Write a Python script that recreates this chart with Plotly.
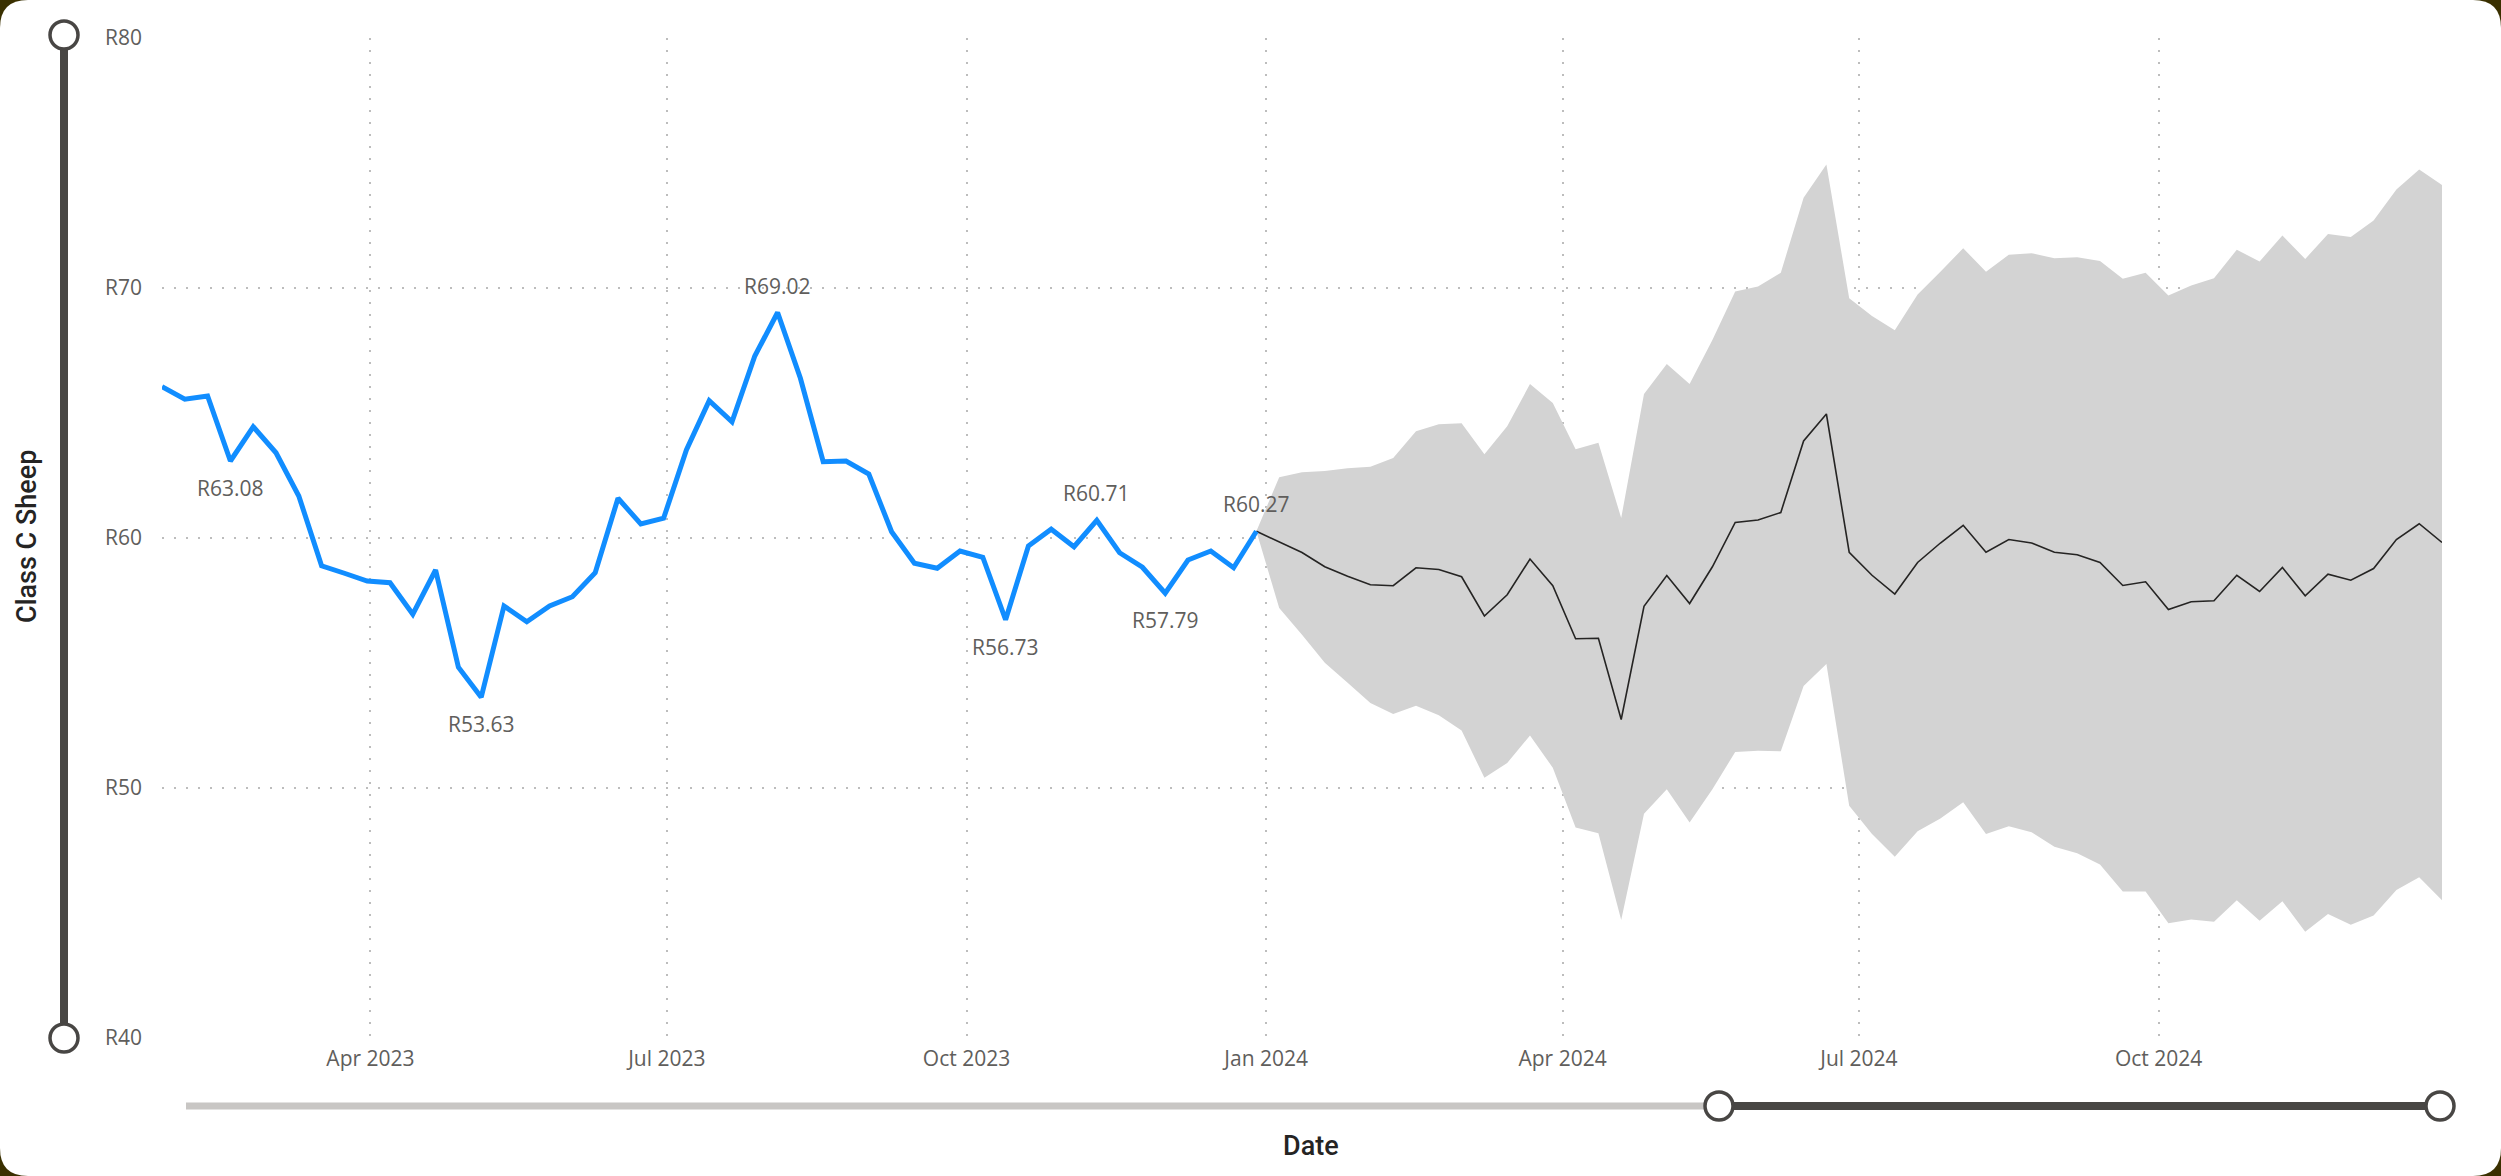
import plotly.graph_objects as go

# ---------------- data ----------------
actual_dates = [
    "2023-01-27", "2023-02-03", "2023-02-10", "2023-02-17", "2023-02-24",
    "2023-03-03", "2023-03-10", "2023-03-17", "2023-03-24", "2023-03-31",
    "2023-04-07", "2023-04-14", "2023-04-21", "2023-04-28",
    "2023-05-05", "2023-05-12", "2023-05-19", "2023-05-26",
    "2023-06-02", "2023-06-09", "2023-06-16", "2023-06-23", "2023-06-30",
    "2023-07-07", "2023-07-14", "2023-07-21", "2023-07-28",
    "2023-08-04", "2023-08-11", "2023-08-18", "2023-08-25",
    "2023-09-01", "2023-09-08", "2023-09-15", "2023-09-22", "2023-09-29",
    "2023-10-06", "2023-10-13", "2023-10-20", "2023-10-27",
    "2023-11-03", "2023-11-10", "2023-11-17", "2023-11-24",
    "2023-12-01", "2023-12-08", "2023-12-15", "2023-12-22", "2023-12-29",
]
actual_price = [
    66.05, 65.55, 65.68, 63.08, 64.45, 63.41, 61.68, 58.89, 58.59, 58.28,
    58.21, 56.95, 58.72, 54.83, 53.63, 57.28, 56.65, 57.28, 57.65, 58.61,
    61.59, 60.56, 60.79, 63.52, 65.49, 64.65, 67.28, 69.02, 66.39, 63.05,
    63.08, 62.56, 60.25, 58.99, 58.79, 59.48, 59.23, 56.73, 59.68, 60.35,
    59.65, 60.71, 59.41, 58.83, 57.79, 59.12, 59.48, 58.81, 60.27,
]

forecast_dates = [
    "2023-12-29",
    "2024-01-05", "2024-01-12", "2024-01-19", "2024-01-26",
    "2024-02-02", "2024-02-09", "2024-02-16", "2024-02-23",
    "2024-03-01", "2024-03-08", "2024-03-15", "2024-03-22", "2024-03-29",
    "2024-04-05", "2024-04-12", "2024-04-19", "2024-04-26",
    "2024-05-03", "2024-05-10", "2024-05-17", "2024-05-24", "2024-05-31",
    "2024-06-07", "2024-06-14", "2024-06-21", "2024-06-28",
    "2024-07-05", "2024-07-12", "2024-07-19", "2024-07-26",
    "2024-08-02", "2024-08-09", "2024-08-16", "2024-08-23", "2024-08-30",
    "2024-09-06", "2024-09-13", "2024-09-20", "2024-09-27",
    "2024-10-04", "2024-10-11", "2024-10-18", "2024-10-25",
    "2024-11-01", "2024-11-08", "2024-11-15", "2024-11-22", "2024-11-29",
    "2024-12-06", "2024-12-13", "2024-12-20", "2024-12-27",
]
forecast_price = [
    60.27, 59.85, 59.42, 58.85, 58.47, 58.13, 58.09, 58.81, 58.74, 58.45,
    56.88, 57.73, 59.16, 58.09, 55.97, 55.99, 52.74, 57.27, 58.50, 57.38,
    58.85, 60.62, 60.72, 61.02, 63.88, 64.96, 59.43, 58.51, 57.76, 59.02,
    59.80, 60.51, 59.43, 59.94, 59.80, 59.43, 59.33, 59.02, 58.10, 58.25,
    57.14, 57.45, 57.49, 58.51, 57.86, 58.82, 57.69, 58.55, 58.31, 58.78,
    59.94, 60.57, 59.82,
]
forecast_upper = [
    60.27, 62.43, 62.63, 62.68, 62.79, 62.85, 63.20, 64.27, 64.55, 64.59,
    63.35, 64.47, 66.16, 65.40, 63.55, 63.81, 60.80, 65.76, 66.96, 66.16,
    67.92, 69.86, 70.06, 70.61, 73.61, 74.94, 69.59, 68.88, 68.31, 69.74,
    70.65, 71.59, 70.65, 71.33, 71.39, 71.19, 71.23, 71.08, 70.37, 70.61,
    69.70, 70.10, 70.39, 71.53, 71.06, 72.10, 71.16, 72.16, 72.04, 72.70,
    73.94, 74.74, 74.12,
]
forecast_lower = [
    60.27, 57.20, 56.13, 55.01, 54.21, 53.40, 52.96, 53.29, 52.91, 52.30,
    50.41, 51.00, 52.10, 50.81, 48.42, 48.19, 44.72, 48.97, 49.95, 48.62,
    49.95, 51.44, 51.49, 51.47, 54.08, 54.96, 49.29, 48.16, 47.25, 48.27,
    48.78, 49.43, 48.16, 48.47, 48.23, 47.65, 47.39, 46.94, 45.86, 45.86,
    44.59, 44.74, 44.65, 45.51, 44.69, 45.47, 44.25, 44.96, 44.53, 44.90,
    45.92, 46.43, 45.51,
]

# data labels: index into actual series, and whether above (+1) or below (-1)
label_index = [3, 14, 27, 37, 41, 44, 48]
label_side = [-1, -1, 1, -1, 1, -1, 1]

x_tick_vals = ["2023-04-01", "2023-07-01", "2023-10-01", "2024-01-01",
               "2024-04-01", "2024-07-01", "2024-10-01"]
x_tick_text = ["Apr 2023", "Jul 2023", "Oct 2023", "Jan 2024",
               "Apr 2024", "Jul 2024", "Oct 2024"]
y_tick_vals = [40, 50, 60, 70, 80]
y_tick_text = ["R40", "R50", "R60", "R70", "R80"]

# ---------------- layout geometry (pixels) ----------------
W, H = 2501, 1176
PL, PR, PT, PB = 162, 2442, 38, 1038


def px(xp):
    return (xp - PL) / (PR - PL)


def py(yp):
    return (PB - yp) / (PB - PT)


TICK_FONT = dict(family="Open Sans, Segoe UI, sans-serif", size=21, color="#605E5C")
TITLE_FONT = dict(family="Roboto, DejaVu Sans, sans-serif", size=27, color="#252423",
                  weight=500)
DARK = "#484644"
LIGHT = "#C8C6C4"

fig = go.Figure()

# forecast band
fig.add_trace(go.Scatter(
    x=forecast_dates, y=forecast_upper, mode="lines",
    line=dict(width=0, color="#D3D3D3"), showlegend=False, hoverinfo="skip",
))
fig.add_trace(go.Scatter(
    x=forecast_dates, y=forecast_lower, mode="lines",
    line=dict(width=0, color="#D3D3D3"), fill="tonexty", fillcolor="#D3D3D3",
    showlegend=False, hoverinfo="skip",
))
# forecast line
fig.add_trace(go.Scatter(
    x=forecast_dates, y=forecast_price, mode="lines",
    line=dict(width=1.6, color="#252423"), showlegend=False,
))
# actual line
fig.add_trace(go.Scatter(
    x=actual_dates, y=actual_price, mode="lines",
    line=dict(width=5, color="#118DFF"), showlegend=False,
))

annotations = []
for idx, side in zip(label_index, label_side):
    annotations.append(dict(
        x=actual_dates[idx], y=actual_price[idx], xref="x", yref="y",
        text=f"R{actual_price[idx]:.2f}", showarrow=False,
        yshift=27 * side, font=dict(family=TICK_FONT["family"], size=21, color="#605E5C"),
    ))

# axis titles
annotations.append(dict(
    x=px(1311), y=py(1146), xref="paper", yref="paper", text="Date",
    showarrow=False, font=TITLE_FONT, xanchor="center", yanchor="middle",
))
annotations.append(dict(
    x=px(27), y=py(537), xref="paper", yref="paper", text="Class C Sheep",
    showarrow=False, font=TITLE_FONT, textangle=-90, xanchor="center", yanchor="middle",
))

shapes = []
# card with rounded corners
r = 28
x0, x1, y0, y1 = 0, W, 0, H
path = (
    f"M {px(x0 + r)},{py(y0)} L {px(x1 - r)},{py(y0)} "
    f"Q {px(x1)},{py(y0)} {px(x1)},{py(y0 + r)} "
    f"L {px(x1)},{py(y1 - r)} Q {px(x1)},{py(y1)} {px(x1 - r)},{py(y1)} "
    f"L {px(x0 + r)},{py(y1)} Q {px(x0)},{py(y1)} {px(x0)},{py(y1 - r)} "
    f"L {px(x0)},{py(y0 + r)} Q {px(x0)},{py(y0)} {px(x0 + r)},{py(y0)} Z"
)
shapes.append(dict(type="path", path=path, xref="paper", yref="paper",
                   fillcolor="white", line=dict(width=0), layer="below"))

# vertical zoom slider (left)
shapes.append(dict(type="line", xref="paper", yref="paper",
                   x0=px(64), x1=px(64), y0=py(35), y1=py(1038),
                   line=dict(color=DARK, width=8), layer="above"))
# horizontal zoom slider (bottom)
shapes.append(dict(type="line", xref="paper", yref="paper",
                   x0=px(186), x1=px(1719), y0=py(1106), y1=py(1106),
                   line=dict(color=LIGHT, width=7), layer="above"))
shapes.append(dict(type="line", xref="paper", yref="paper",
                   x0=px(1719), x1=px(2440), y0=py(1106), y1=py(1106),
                   line=dict(color=DARK, width=8), layer="above"))
for cx, cy in [(64, 35), (64, 1038), (1719, 1106), (2440, 1106)]:
    shapes.append(dict(type="circle", xref="paper", yref="paper",
                       xsizemode="pixel", ysizemode="pixel",
                       xanchor=px(cx), yanchor=py(cy),
                       x0=-14, x1=14, y0=-14, y1=14,
                       fillcolor="white", line=dict(color=DARK, width=3.5),
                       layer="above"))

fig.update_layout(
    width=W, height=H,
    margin=dict(l=PL, r=W - PR, t=PT, b=H - PB, autoexpand=False),
    paper_bgcolor="#3A3000",
    plot_bgcolor="rgba(0,0,0,0)",
    showlegend=False,
    annotations=annotations,
    shapes=shapes,
    xaxis=dict(
        type="date", range=["2023-01-27", "2024-12-27"],
        tickvals=x_tick_vals, ticktext=x_tick_text,
        tickfont=TICK_FONT, ticks="", ticklabelstandoff=6,
        showgrid=True, gridcolor="#BDBDBD", gridwidth=1.5, griddash="2px,10px",
        zeroline=False, showline=False,
    ),
    yaxis=dict(
        range=[40, 80], tickvals=y_tick_vals, ticktext=y_tick_text,
        tickfont=TICK_FONT, ticks="", ticklabelstandoff=19,
        showgrid=True, gridcolor="#BDBDBD", gridwidth=1.5, griddash="2px,10px",
        zeroline=False, showline=False,
    ),
)

fig.write_html(
    "out.html",
    config={"displayModeBar": False},
    post_script="document.body.style.margin='0';document.body.style.overflow='hidden';",
)
